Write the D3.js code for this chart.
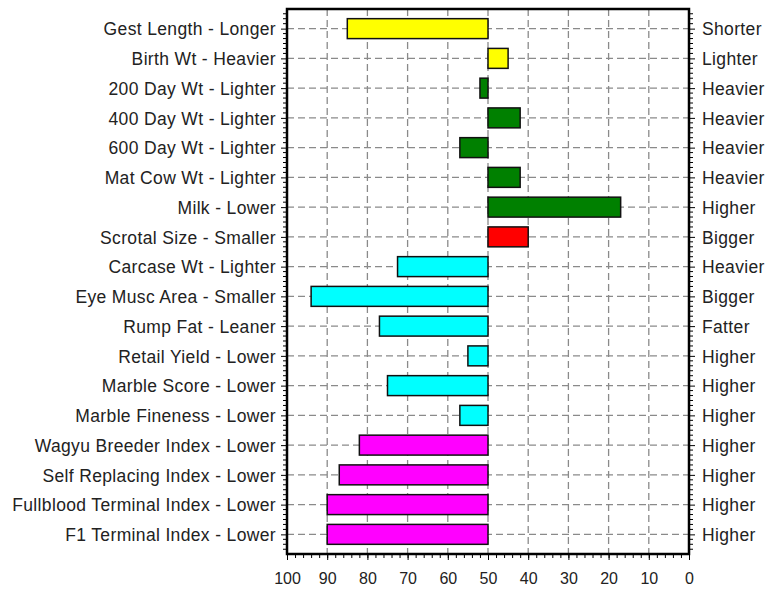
<!DOCTYPE html>
<html lang="en">
<head>
<meta charset="utf-8">
<title>Trait bars</title>
<script type="text/javascript" src="https://d3js.org/d3.v7.min.js"></script>
<style type="text/css">
    body { margin: 0; background: #fff; }
    .axis text { font-family: "Liberation Sans", Arial, sans-serif; fill: #222; }
    .axis path { display: none; }
    .axis line { stroke: #000; }
    .grid line { stroke: #8a8a8a; stroke-width: 1.3; stroke-dasharray: 7,4; }
</style>
</head>
<body>
<script type="text/javascript">

var traits = ["Gest Length - Longer", "Birth Wt - Heavier", "200 Day Wt - Lighter",
    "400 Day Wt - Lighter", "600 Day Wt - Lighter", "Mat Cow Wt - Lighter",
    "Milk - Lower", "Scrotal Size - Smaller", "Carcase Wt - Lighter",
    "Eye Musc Area - Smaller", "Rump Fat - Leaner", "Retail Yield - Lower",
    "Marble Score - Lower", "Marble Fineness - Lower", "Wagyu Breeder Index - Lower",
    "Self Replacing Index - Lower", "Fullblood Terminal Index - Lower", "F1 Terminal Index - Lower"];
var rightLabels = ["Shorter", "Lighter", "Heavier", "Heavier", "Heavier", "Heavier",
    "Higher", "Bigger", "Heavier", "Bigger", "Fatter", "Higher",
    "Higher", "Higher", "Higher", "Higher", "Higher", "Higher"];
var values = [85, 45, 52, 42, 57, 42, 17, 40, 72.5, 94, 77, 55, 75, 57, 82, 87, 90, 90];
var colors = ["#ffff00", "#ffff00", "#008000", "#008000", "#008000", "#008000",
    "#008000", "#ff0000", "#00ffff", "#00ffff", "#00ffff", "#00ffff",
    "#00ffff", "#00ffff", "#ff00ff", "#ff00ff", "#ff00ff", "#ff00ff"];
var baseline = 50;
var xTicks = [100, 90, 80, 70, 60, 50, 40, 30, 20, 10, 0];

var W = 766, H = 589;
var margin = {top: 9, right: 77, bottom: 35, left: 287};
var w = W - margin.left - margin.right;
var h = H - margin.top - margin.bottom;

var svg = d3.select("body").append("svg")
    .attr("width", W)
    .attr("height", H);

var g = svg.append("g")
    .attr("transform", "translate(" + margin.left + "," + margin.top + ")");

var x = d3.scaleLinear().domain([100, 0]).range([0, w]);
var y = d3.scalePoint().domain(d3.range(traits.length)).range([0, h]).padding(0.66);
var barH = y.step() * 0.67;

// grid
var grid = g.append("g").attr("class", "grid");
grid.selectAll(".v").data(xTicks.filter(function(d) { return d > 0 && d < 100; }))
    .enter().append("line")
    .attr("x1", function(d) { return x(d); })
    .attr("x2", function(d) { return x(d); })
    .attr("y1", 0).attr("y2", h);
grid.selectAll(".h").data(d3.range(traits.length))
    .enter().append("line")
    .attr("x1", 0).attr("x2", w)
    .attr("y1", function(d) { return y(d); })
    .attr("y2", function(d) { return y(d); });

// bars
g.selectAll("rect.bar").data(values)
    .enter().append("rect")
    .attr("class", "bar")
    .attr("x", function(d) { return Math.min(x(d), x(baseline)); })
    .attr("width", function(d) { return Math.abs(x(d) - x(baseline)); })
    .attr("y", function(d, i) { return y(i) - barH / 2; })
    .attr("height", barH)
    .attr("fill", function(d, i) { return colors[i]; })
    .attr("stroke", "#111")
    .attr("stroke-width", 1.5);

// minor ticks on the side axes
var minor = [];
var sub = y.step() / 6;
for (var k = -3; k <= traits.length * 6 + 3; k++) {
    var yy = y(0) + k * sub;
    if (yy > 1 && yy < h - 1 && k % 6 != 0) minor.push(yy);
}
g.selectAll(".minorL").data(minor).enter().append("line")
    .attr("x1", -4).attr("x2", 0)
    .attr("y1", function(d) { return d; }).attr("y2", function(d) { return d; })
    .attr("stroke", "#000");
g.selectAll(".minorR").data(minor).enter().append("line")
    .attr("x1", w).attr("x2", w + 4)
    .attr("y1", function(d) { return d; }).attr("y2", function(d) { return d; })
    .attr("stroke", "#000");

// left axis
g.append("g").attr("class", "axis")
    .call(d3.axisLeft(y).tickSize(6).tickPadding(5).tickFormat(function(i) { return traits[i]; }))
    .selectAll("text").style("font-size", "17.5px").style("letter-spacing", "0.35px").attr("dy", "0.36em");

// right axis
g.append("g").attr("class", "axis")
    .attr("transform", "translate(" + w + ",0)")
    .call(d3.axisRight(y).tickSize(6).tickPadding(7).tickFormat(function(i) { return rightLabels[i]; }))
    .selectAll("text").style("font-size", "17.5px").style("letter-spacing", "0.35px").attr("dy", "0.36em");

// bottom axis with minor ticks
g.append("g").attr("class", "axis")
    .attr("transform", "translate(0," + h + ")")
    .call(d3.axisBottom(x).tickValues(d3.range(0, 101, 2)).tickSize(4).tickFormat(""));
g.append("g").attr("class", "axis")
    .attr("transform", "translate(0," + h + ")")
    .call(d3.axisBottom(x).tickValues(xTicks).tickSize(6).tickPadding(13).tickFormat(d3.format("d")))
    .selectAll("text").style("font-size", "16px");

// frame
g.append("rect")
    .attr("x", 0).attr("y", 0)
    .attr("width", w).attr("height", h)
    .attr("fill", "none")
    .attr("stroke", "#000")
    .attr("stroke-width", 2.5);

</script>
</body>
</html>
